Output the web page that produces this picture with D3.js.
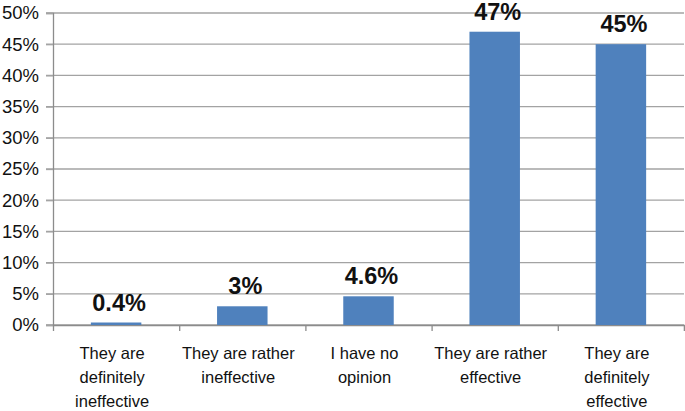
<!DOCTYPE html>
<html>
<head>
<meta charset="utf-8">
<script src="https://cdn.jsdelivr.net/npm/d3@7"></script>
<style>
  body { margin: 0; background: #fff; }
  text { font-family: "Liberation Sans", Arial, sans-serif; fill: #111; }
</style>
</head>
<body>
<div id="chart"></div>
<script>
const categories = [
    ["They are", "definitely", "ineffective"],
    ["They are rather", "ineffective"],
    ["I have no", "opinion"],
    ["They are rather", "effective"],
    ["They are", "definitely", "effective"]
];
const values = [0.4, 3, 4.6, 47, 45];
const valueLabels = ["0.4%", "3%", "4.6%", "47%", "45%"];
const yTicks = [0, 5, 10, 15, 20, 25, 30, 35, 40, 45, 50];

const width = 685;
const height = 411;
const margin = {top: 13, right: 1, bottom: 86, left: 53};
const w = width - margin.left - margin.right;
const h = height - margin.top - margin.bottom;

const svg = d3.select("#chart").append("svg")
    .attr("width", width)
    .attr("height", height)
    .append("g")
    .attr("transform", `translate(${margin.left}, ${margin.top})`);

const x = d3.scaleBand()
    .domain(d3.range(categories.length))
    .range([0, w])
    .paddingInner(0.6)
    .paddingOuter(0.3);

const xb = d3.scaleLinear()
    .domain([0, categories.length])
    .range([0, w]);

const y = d3.scaleLinear()
    .domain([0, 50])
    .range([h, 0]);

// gridlines
svg.append("g")
    .selectAll("line")
    .data(yTicks)
    .enter()
    .append("line")
    .attr("x1", -7)
    .attr("x2", w)
    .attr("y1", d => y(d))
    .attr("y2", d => y(d))
    .attr("stroke", "#a3a3a3")
    .attr("stroke-width", 1.3);

// y axis
const yAxis = svg.append("g")
    .call(d3.axisLeft(y).tickValues(yTicks).tickFormat(d => d + "%").tickSize(7).tickPadding(7));
yAxis.select(".domain").attr("stroke", "#8c8c8c").attr("stroke-width", 1.3);
yAxis.selectAll(".tick line").attr("stroke", "#a3a3a3").attr("stroke-width", 1.3);
yAxis.selectAll("text")
    .attr("font-size", 18.5)
    .attr("font-family", "Liberation Sans, Arial, sans-serif")
    .attr("fill", "#111");

// x axis with ticks at band boundaries
const xAxis = svg.append("g")
    .attr("transform", `translate(0, ${h})`)
    .call(d3.axisBottom(xb).tickValues(d3.range(1, categories.length + 1)).tickSize(6).tickFormat(""));
xAxis.select(".domain").attr("stroke", "#8c8c8c").attr("stroke-width", 1.3);
xAxis.selectAll(".tick line").attr("stroke", "#8c8c8c").attr("stroke-width", 1.3);

// bars
svg.selectAll(".bar")
    .data(values)
    .enter()
    .append("rect")
    .attr("class", "bar")
    .attr("x", (d, i) => x(i))
    .attr("y", d => y(d))
    .attr("width", x.bandwidth())
    .attr("height", d => h - y(d))
    .attr("fill", "#4f81bd");

// value labels
svg.selectAll(".val")
    .data(values)
    .enter()
    .append("text")
    .attr("class", "val")
    .attr("x", (d, i) => x(i) + x.bandwidth() / 2 + 3)
    .attr("y", d => y(d) - 12)
    .attr("text-anchor", "middle")
    .attr("font-size", 23.5)
    .attr("font-weight", "bold")
    .text((d, i) => valueLabels[i]);

// category labels
const cat = svg.selectAll(".cat")
    .data(categories)
    .enter()
    .append("text")
    .attr("class", "cat")
    .attr("text-anchor", "middle")
    .attr("font-size", 16.5)
    .attr("transform", (d, i) => `translate(${x(i) + x.bandwidth() / 2 - 4}, ${h + 34})`);

cat.selectAll("tspan")
    .data(d => d)
    .enter()
    .append("tspan")
    .attr("x", 0)
    .attr("y", (d, i) => i * 24)
    .text(d => d);
</script>
</body>
</html>
